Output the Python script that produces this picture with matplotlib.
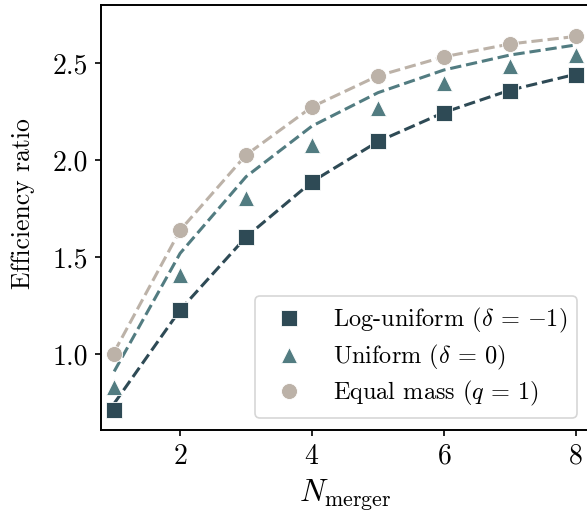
import matplotlib
matplotlib.use("Agg")
import matplotlib.pyplot as plt

plt.rcParams['font.family'] = 'serif'
plt.rcParams['font.serif'] = ['cmr10', 'DejaVu Serif']
plt.rcParams['mathtext.fontset'] = 'cm'
plt.rcParams['axes.formatter.use_mathtext'] = True
plt.rcParams['axes.unicode_minus'] = True

n_merger = [1, 2, 3, 4, 5, 6, 7, 8]

# measured points
log_uniform = [0.71, 1.227, 1.603, 1.889, 2.100, 2.244, 2.358, 2.440]
uniform = [0.83, 1.408, 1.802, 2.077, 2.268, 2.398, 2.486, 2.543]
equal_mass = [1.00, 1.638, 2.026, 2.274, 2.434, 2.532, 2.598, 2.637]

# model curves (dashed)
log_uniform_model = [0.745, 1.227, 1.603, 1.888, 2.095, 2.245, 2.360, 2.442]
uniform_model = [0.91, 1.519, 1.914, 2.175, 2.347, 2.464, 2.541, 2.593]
equal_mass_model = [1.01, 1.638, 2.026, 2.274, 2.434, 2.532, 2.598, 2.637]

labels = [r'Log-uniform ($\delta$ = $-$1)', r'Uniform ($\delta$ = 0)', r'Equal mass ($q$ = 1)']
colors = ['#2e4a55', '#527c81', '#bcb2a8']
markers = ['s', '^', 'o']

fig = plt.figure(figsize=(5.87, 5.12), dpi=100)
ax = fig.add_axes([101/587, 82/512, 488/587, 425/512])

for model, col in zip([log_uniform_model, uniform_model, equal_mass_model], colors):
    ax.plot(n_merger, model, ls='--', color=col, lw=2.2, zorder=2)

for vals, col, m, lab in zip([log_uniform, uniform, equal_mass], colors, markers, labels):
    ax.plot(n_merger, vals, ls='none', marker=m, ms=11.5, color=col,
            mec='white', mew=0.6, label=lab, zorder=3)

ax.set_xlim(0.8, 8.2)
ax.set_ylim(0.608, 2.799)
ax.set_xticks([2, 4, 6, 8])
ax.set_yticks([1.0, 1.5, 2.0, 2.5])
ax.set_yticklabels(['1.0', '1.5', '2.0', '2.5'])
ax.tick_params(direction='out', length=4.5, width=1.2, labelsize=20, pad=5)
for s in ax.spines.values():
    s.set_linewidth(1.4)

ax.set_xlabel(r'$N_{\mathrm{merger}}$', fontsize=22.5, labelpad=6)
ax.set_ylabel('Efficiency ratio', fontsize=18.5)
ax.yaxis.set_label_coords(-0.135, 0.532)

leg = ax.legend(loc='lower right', fontsize=17.5, frameon=True, handletextpad=0.8,
                borderpad=0.4, labelspacing=0.3, fancybox=True)
leg.get_frame().set_edgecolor('#cccccc')
leg.get_frame().set_linewidth(1.2)

fig.savefig('out.png', dpi=100)
